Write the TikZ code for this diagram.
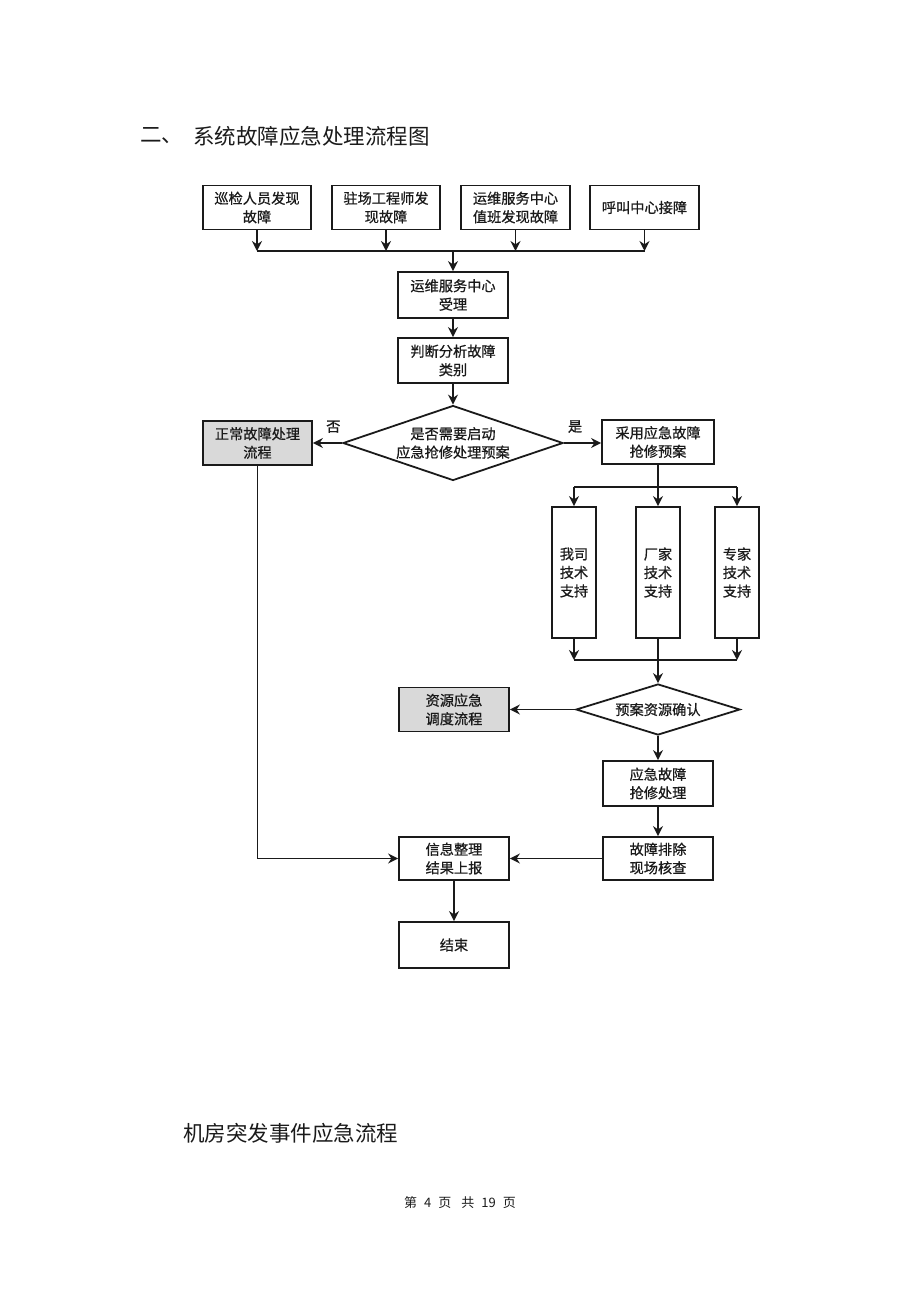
\documentclass[tikz,border=0pt]{standalone}
\usepackage{fontspec}
\setmainfont{Noto Sans CJK SC}
\newfontfamily\boxfont{Noto Sans CJK SC}[FakeBold=0.7]
\usetikzlibrary{shapes.geometric,arrows.meta}
\definecolor{boxgray}{HTML}{D9D9D9}
\definecolor{ink}{HTML}{1A1A1A}
\begin{document}
\begin{tikzpicture}[x=1pt,y=-1pt,
  every node/.style={text=ink},
  boxtext/.style={font=\boxfont\fontsize{14.2}{18.5}\selectfont},
  stepbox/.style={draw=ink,line width=1.8pt,boxtext,align=center,inner sep=0pt,minimum width=110pt,minimum height=44pt},
  tallbox/.style={draw=ink,line width=1.8pt,boxtext,align=center,inner sep=0pt,minimum width=44pt,minimum height=131pt},
  graybox/.style={stepbox,fill=boxgray},
  decision/.style={draw=ink,line width=1.8pt,boxtext,align=center,shape=diamond,inner sep=0pt},
  conn/.style={draw=ink,line width=1.8pt},
  arr/.style={conn,-{Stealth[length=10pt,width=10pt]}},
  lbl/.style={font=\boxfont\fontsize{14.2}{16}\selectfont}
]
\useasboundingbox (0,0) rectangle (920,1302);

% headings
\node[anchor=west,font=\fontsize{21.5}{24}\selectfont,inner sep=0pt] (h1a) at (140,136) {二、};
\node[anchor=west,font=\fontsize{21.5}{24}\selectfont,inner sep=0pt] (h1b) at (193,136) {系统故障应急处理流程图};
\node[anchor=west,font=\fontsize{21.5}{24}\selectfont,inner sep=0pt] (h2) at (183,1133) {机房突发事件应急流程};
\node[font=\fontsize{13}{15}\selectfont,inner sep=0pt] (foot) at (460,1203) {第\hspace{7pt}4\hspace{7pt}页\hspace{10pt}共\hspace{7pt}19\hspace{7pt}页};

% top boxes
\node[stepbox,minimum width=108pt] (b1) at (257,207.5) {巡检人员发现\\故障};
\node[stepbox,minimum width=108pt] (b2) at (386,207.5) {驻场工程师发\\现故障};
\node[stepbox,minimum width=109pt] (b3) at (515.5,207.5) {运维服务中心\\值班发现故障};
\node[stepbox,minimum width=109pt] (b4) at (644.5,207.5) {呼叫中心接障};
\coordinate (j) at (453,251);

\node[stepbox,minimum height=46pt] (r1) at (453,295) {运维服务中心\\受理};
\node[stepbox,minimum height=45pt] (r2) at (453,360.5) {判断分析故障\\类别};
\node[decision,minimum width=220pt,minimum height=75pt,aspect=2.9] (d1) at (453,443) {是否需要启动\\应急抢修处理预案};

\node[graybox,minimum width=109pt] (n1) at (257.5,443) {正常故障处理\\流程};
\node[stepbox,minimum width=112pt] (y1) at (658,442) {采用应急故障\\抢修预案};

\coordinate (br) at (658,487);
\node[tallbox] (t1) at (574,572.5) {我司\\技术\\支持};
\node[tallbox] (t2) at (658,572.5) {厂家\\技术\\支持};
\node[tallbox] (t3) at (737,572.5) {专家\\技术\\支持};
\coordinate (m) at (658,660);

\node[decision,minimum width=164pt,minimum height=51pt,aspect=3.2] (d2) at (658,709.5) {预案资源确认};
\node[graybox] (z1) at (454,709.5) {资源应急\\调度流程};
\node[stepbox,minimum height=45pt] (e1) at (658,783.5) {应急故障\\抢修处理};
\node[stepbox,minimum height=43pt] (e2) at (658,858.5) {故障排除\\现场核查};
\node[stepbox,minimum height=43pt] (i1) at (454,858.5) {信息整理\\结果上报};
\node[stepbox,minimum height=46pt] (fin) at (454,945) {结束};

% connectors top
\foreach \b in {b1,b2,b3,b4} \draw[arr] (\b.south) -- (\b.south |- j);
\draw[conn] (b1.south |- j) -- (b4.south |- j);
\draw[arr] (j) -- (r1.north);
\draw[arr] (r1) -- (r2);
\draw[arr] (r2) -- (d1);
\draw[arr] (d1.west) -- node[lbl,above=6pt,pos=0.3] {否} (d1.west -| n1.east);
\draw[arr] (d1.east) -- node[lbl,above=6pt,pos=0.3] {是} (d1.east -| y1.west);

% branches
\draw[arr] (y1.south) -- (t2.north);
\draw[conn] (t1.north |- br) -- (t3.north |- br);
\draw[arr] (t1.north |- br) -- (t1.north);
\draw[arr] (t3.north |- br) -- (t3.north);
\draw[arr] (t1.south) -- (t1.south |- m);
\draw[arr] (t3.south) -- (t3.south |- m);
\draw[conn] (t1.south |- m) -- (t3.south |- m);
\draw[arr] (t2.south) -- (d2.north);

\draw[arr] (d2.west) -- (z1.east);
\draw[arr] (d2.south) -- (e1.north);
\draw[arr] (e1) -- (e2);
\draw[arr] (e2.west) -- (i1.east);
\draw[arr] (n1.south) -- (n1.south |- i1.west) -- (i1.west);
\draw[arr] (i1) -- (fin);
\end{tikzpicture}
\end{document}
